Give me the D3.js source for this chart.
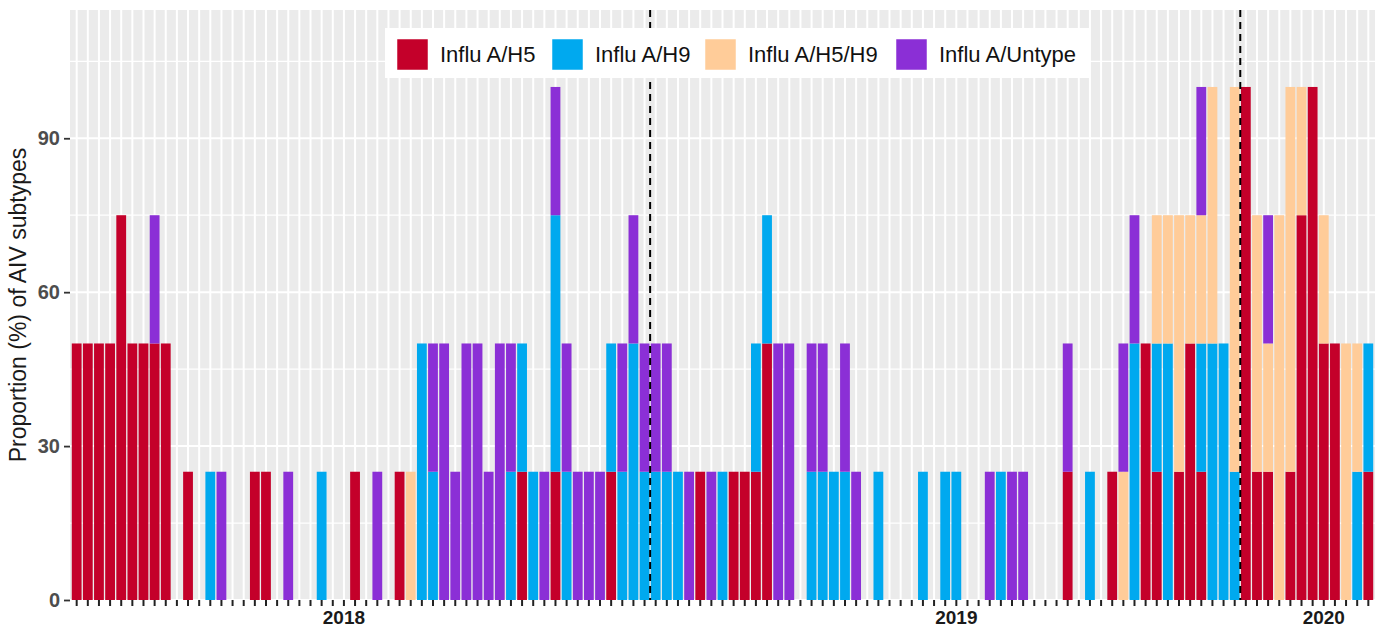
<!DOCTYPE html>
<html>
<head>
<meta charset="utf-8">
<script src="https://cdn.jsdelivr.net/npm/d3@7"></script>
<style>
  body { margin: 0; background: #fff; }
  svg { display: block; font-family: "Liberation Sans", Arial, sans-serif; }
</style>
</head>
<body>
<svg id="chart" width="1381" height="630"></svg>
<script>
// ===== weekly AIV subtype proportions (stacked, %) =====

var subtypes = ["Influ A/H5", "Influ A/H9", "Influ A/H5/H9", "Influ A/Untype"];
var subtypeColours = ["#C4002A", "#00A9EF", "#FFCC99", "#8B2FD6"];

// one value per week, 117 weeks
var h5 = [50,50,50,50,75,50,50,50,50,0, 25,0,0,0,0,0,25,25,0,0,
  0,0,0,0,0,25,0,0,0,25, 0,0,0,0,0,0,0,0,0,0,
  25,0,0,25,0,0,0,0,25,0, 0,0,0,0,0,0,25,0,0,25,
  25,25,50,0,0,0,0,0,0,0, 0,0,0,0,0,0,0,0,0,0,
  0,0,0,0,0,0,0,0,0,25, 0,0,0,25,0,0,50,25,0,25,
  50,25,0,0,0,100,25,25,0,25, 75,100,50,50,0,0,25];
var h9 = [0,0,0,0,0,0,0,0,0,0, 0,0,25,0,0,0,0,0,0,0,
  0,0,25,0,0,0,0,0,0,0, 0,50,25,0,0,0,0,0,0,25,
  25,25,0,50,25,0,0,0,25,25, 50,25,25,25,25,0,0,0,25,0,
  0,25,25,0,0,0,25,25,25,25, 0,0,25,0,0,0,25,0,25,25,
  0,0,0,25,0,0,0,0,0,0, 0,25,0,0,0,50,0,25,50,0,
  0,25,50,50,25,0,0,0,0,0, 0,0,0,0,0,25,25];
var h5h9 = [0,0,0,0,0,0,0,0,0,0, 0,0,0,0,0,0,0,0,0,0,
  0,0,0,0,0,0,0,0,0,0, 25,0,0,0,0,0,0,0,0,0,
  0,0,0,0,0,0,0,0,0,0, 0,0,0,0,0,0,0,0,0,0,
  0,0,0,0,0,0,0,0,0,0, 0,0,0,0,0,0,0,0,0,0,
  0,0,0,0,0,0,0,0,0,0, 0,0,0,0,25,0,0,25,25,50,
  25,25,50,0,75,0,50,25,75,75, 25,0,25,0,50,25,0];
var untype = [0,0,0,0,0,0,0,25,0,0, 0,0,0,25,0,0,0,0,0,25,
  0,0,0,0,0,0,0,25,0,0, 0,0,25,50,25,50,50,25,50,25,
  0,0,25,25,25,25,25,25,0,25, 25,25,25,25,0,25,0,25,0,0,
  0,0,0,50,50,0,25,25,0,25, 25,0,0,0,0,0,0,0,0,0,
  0,0,25,0,25,25,0,0,0,25, 0,0,0,0,25,25,0,0,0,0,
  0,25,0,0,0,0,0,25,0,0, 0,0,0,0,0,0,0];

var yTicks = [0, 30, 60, 90];
var yMinor = [15, 45, 75, 105];
var yearTickWeeks = [24, 79, 112];
var yearTickLabels = ["2018", "2019", "2020"];
var periodBreaks = [51.5, 104.5];   // dashed separators, in week units

var W = 1381, H = 630;
var margin = { left: 70, right: 6, top: 10, bottom: 30 };
var plotL = margin.left, plotR = W - margin.right, plotT = margin.top, plotB = H - margin.bottom;

var svg = d3.select("#chart");

var weeks = d3.range(h5.length);
var rows = weeks.map(function(i) {
  return { week: i, "Influ A/H5": h5[i], "Influ A/H9": h9[i], "Influ A/H5/H9": h5h9[i], "Influ A/Untype": untype[i] };
});

var x = d3.scaleBand().domain(weeks).range([plotL, plotR]).paddingInner(0.12).paddingOuter(0.16);
var y = d3.scaleLinear().domain([0, 115]).range([plotB, plotT]);
var colour = d3.scaleOrdinal().domain(subtypes).range(subtypeColours);

// Panel background
svg.append("rect")
  .attr("x", plotL).attr("y", plotT)
  .attr("width", plotR - plotL).attr("height", plotB - plotT)
  .attr("fill", "#EBEBEB");

// Grid
var grid = svg.append("g");
grid.selectAll(".minor").data(yMinor).join("line")
  .attr("x1", plotL).attr("x2", plotR)
  .attr("y1", function(d) { return y(d); }).attr("y2", function(d) { return y(d); })
  .attr("stroke", "#fff").attr("stroke-width", 1.2);
grid.selectAll(".major").data(yTicks).join("line")
  .attr("x1", plotL).attr("x2", plotR)
  .attr("y1", function(d) { return y(d); }).attr("y2", function(d) { return y(d); })
  .attr("stroke", "#fff").attr("stroke-width", 2);
grid.selectAll(".vgrid").data(weeks).join("line")
  .attr("x1", function(d) { return x(d) + x.bandwidth() / 2; })
  .attr("x2", function(d) { return x(d) + x.bandwidth() / 2; })
  .attr("y1", plotT).attr("y2", plotB)
  .attr("stroke", "#fff").attr("stroke-width", 2);

// Stacked bars: H5 at bottom, Untype on top
var stacked = d3.stack().keys(subtypes)(rows);
svg.append("g").selectAll("g").data(stacked).join("g")
  .attr("fill", function(d) { return colour(d.key); })
  .selectAll("rect")
  .data(function(d) { return d.filter(function(s) { return s[1] - s[0] > 0; }); })
  .join("rect")
  .attr("x", function(d) { return x(d.data.week); })
  .attr("width", x.bandwidth())
  .attr("y", function(d) { return y(d[1]); })
  .attr("height", function(d) { return y(d[0]) - y(d[1]); });

// Dashed period separators
svg.append("g").selectAll("line").data(periodBreaks).join("line")
  .attr("x1", function(d) { return x(0) + x.bandwidth() / 2 + d * x.step(); })
  .attr("x2", function(d) { return x(0) + x.bandwidth() / 2 + d * x.step(); })
  .attr("y1", plotT).attr("y2", plotB)
  .attr("stroke", "#000").attr("stroke-width", 2)
  .attr("stroke-dasharray", "7,5");

// Y axis
var yAxis = svg.append("g")
  .attr("transform", "translate(" + plotL + ",0)")
  .call(d3.axisLeft(y).tickValues(yTicks).tickSize(6).tickPadding(4));
yAxis.select(".domain").remove();
yAxis.selectAll("line").attr("stroke", "#333").attr("stroke-width", 1.8);
yAxis.selectAll("text")
  .attr("font-size", 20).attr("font-weight", "bold")
  .attr("fill", "#4D4D4D").attr("font-family", "Liberation Sans, Arial, sans-serif");

// X axis: one tick per week, year labels on a few
var xAxis = svg.append("g")
  .attr("transform", "translate(0," + plotB + ")")
  .call(d3.axisBottom(x).tickSize(6).tickPadding(5)
    .tickFormat(function(d) {
      var k = yearTickWeeks.indexOf(d);
      return k >= 0 ? yearTickLabels[k] : "";
    }));
xAxis.select(".domain").remove();
xAxis.selectAll("line").attr("stroke", "#222").attr("stroke-width", 2);
xAxis.selectAll("text")
  .attr("font-size", 19).attr("font-weight", "bold")
  .attr("fill", "#1a1a1a").attr("font-family", "Liberation Sans, Arial, sans-serif");

// Y title
svg.append("text")
  .attr("transform", "translate(26," + ((plotT + plotB) / 2) + ") rotate(-90)")
  .attr("text-anchor", "middle")
  .attr("font-size", 23).attr("fill", "#1a1a1a")
  .text("Proportion (%) of AIV subtypes");

// Legend
var legX = 385, legY = 28, legW = 705, legH = 50;
var leg = svg.append("g");
leg.append("rect").attr("x", legX).attr("y", legY)
  .attr("width", legW).attr("height", legH).attr("fill", "#fff");
var keyOffsets = [12, 167, 320, 511];
subtypes.forEach(function(s, i) {
  var kx = legX + keyOffsets[i];
  leg.append("rect").attr("x", kx).attr("y", legY + 11)
    .attr("width", 31).attr("height", 31).attr("fill", colour(s))
    .attr("stroke", "#fff").attr("stroke-width", 0.5);
  leg.append("text").attr("x", kx + 43).attr("y", legY + 34)
    .attr("font-size", 22).attr("fill", "#111").text(s);
});
</script>
</body>
</html>
